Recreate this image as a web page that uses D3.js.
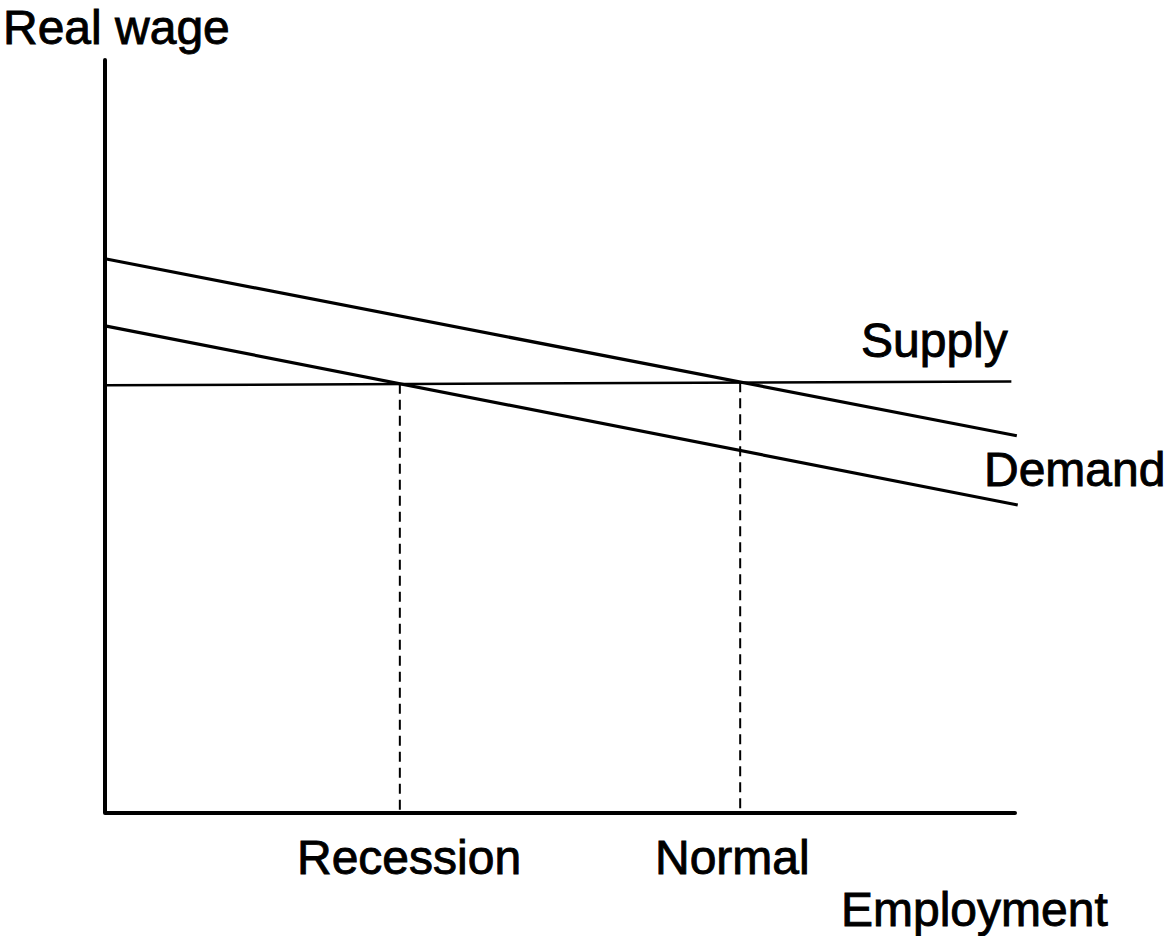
<!DOCTYPE html>
<html>
<head>
<meta charset="utf-8">
<script src="https://cdn.jsdelivr.net/npm/d3@7"></script>
<style>
  html, body { margin: 0; padding: 0; background: #fff; }
  svg text {
    font-family: "Liberation Sans", Arial, Helvetica, sans-serif;
    font-size: 48px;
    fill: #000;
    stroke: #000;
    stroke-width: 0.9px;
  }
</style>
</head>
<body>
<svg id="chart" width="1168" height="936"></svg>
<script>
// employment (x) and real wage (y), both on a 0..100 scale
const supply = [[0, 56.8], [99.6, 57.3]];
const demandHigh = [[0, 73.6], [100.2, 50.1]];
const demandLow = [[0, 64.7], [100.3, 40.9]];
const markers = [
    { name: 'Recession', x: 32.4, wage: 57.0 },
    { name: 'Normal', x: 69.8, wage: 57.2 }
];

const svg = d3.select('#chart');
const x = d3.scaleLinear().domain([0, 100]).range([105, 1015]);
const y = d3.scaleLinear().domain([0, 100]).range([813, 60]);
const line = d3.line().x(d => x(d[0])).y(d => y(d[1]));

// dashed drops from the equilibria
svg.selectAll('line.drop')
    .data(markers)
    .enter()
    .append('line')
    .attr('class', 'drop')
    .attr('x1', d => x(d.x))
    .attr('x2', d => x(d.x))
    .attr('y1', d => y(d.wage))
    .attr('y2', y(0))
    .attr('stroke', '#000')
    .attr('stroke-width', 2)
    .attr('stroke-dasharray', '10,6');

svg.append('path')
    .attr('d', line(supply))
    .attr('fill', 'none')
    .attr('stroke', '#000')
    .attr('stroke-width', 2.5);

svg.selectAll('path.demand')
    .data([demandHigh, demandLow])
    .enter()
    .append('path')
    .attr('class', 'demand')
    .attr('d', line)
    .attr('fill', 'none')
    .attr('stroke', '#000')
    .attr('stroke-width', 3.2);

// axes
svg.append('path')
    .attr('d', line([[0, 100], [0, 0], [100, 0]]))
    .attr('fill', 'none')
    .attr('stroke', '#000')
    .attr('stroke-width', 4)
    .attr('stroke-linejoin', 'round')
    .attr('stroke-linecap', 'round');

// labels
svg.append('text').attr('x', 3).attr('y', 44).text('Real wage');
svg.append('text').attr('x', 861).attr('y', 357).text('Supply');
svg.append('text').attr('x', 984).attr('y', 486).text('Demand');
svg.append('text').attr('x', 297).attr('y', 874).text(markers[0].name);
svg.append('text').attr('x', 655).attr('y', 874).text(markers[1].name);
svg.append('text').attr('x', 841).attr('y', 926).text('Employment');
</script>
</body>
</html>
